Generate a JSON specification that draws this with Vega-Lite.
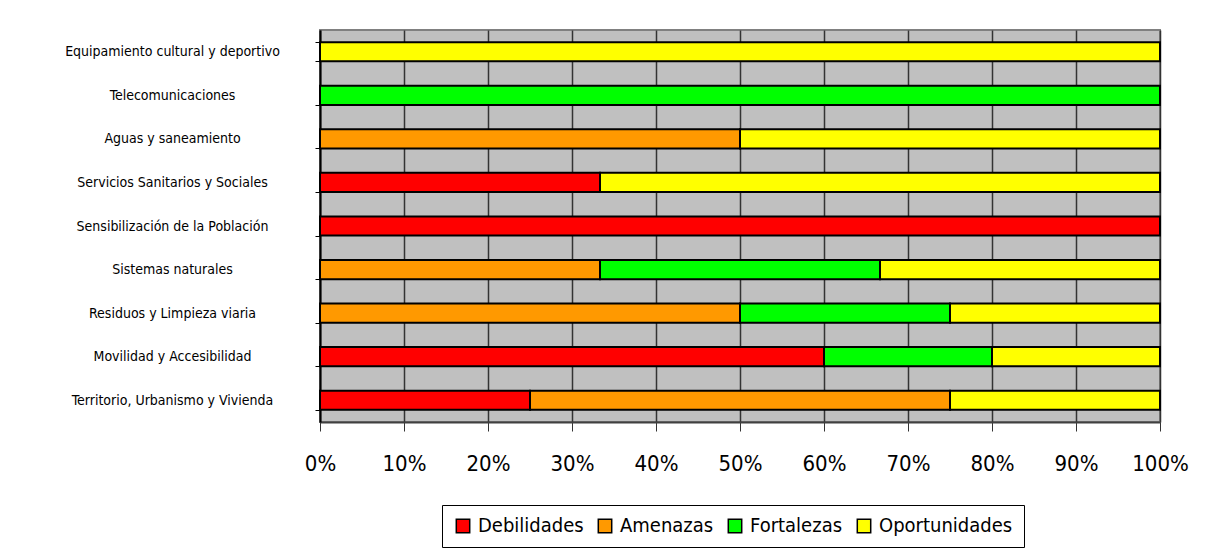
{
  "$schema": "https://vega.github.io/schema/vega-lite/v6.json",
  "width": 840,
  "height": 392,
  "autosize": {"type": "none"},
  "padding": {"left": 320, "top": 30, "right": 58, "bottom": 132},
  "background": "white",
  "config": {
    "view": {"fill": "#C0C0C0", "stroke": "#808080", "strokeWidth": 2},
    "font": "DejaVu Sans Condensed, Roboto Condensed, Liberation Sans, sans-serif"
  },
  "data": {
    "values": [
      {"area": "Equipamiento cultural y deportivo", "tipo": "Oportunidades", "orden": 4, "n": 1},
      {"area": "Telecomunicaciones", "tipo": "Fortalezas", "orden": 3, "n": 1},
      {"area": "Aguas y saneamiento", "tipo": "Amenazas", "orden": 2, "n": 1},
      {"area": "Aguas y saneamiento", "tipo": "Oportunidades", "orden": 4, "n": 1},
      {"area": "Servicios Sanitarios y Sociales", "tipo": "Debilidades", "orden": 1, "n": 1},
      {"area": "Servicios Sanitarios y Sociales", "tipo": "Oportunidades", "orden": 4, "n": 2},
      {"area": "Sensibilización de la Población", "tipo": "Debilidades", "orden": 1, "n": 1},
      {"area": "Sistemas naturales", "tipo": "Amenazas", "orden": 2, "n": 1},
      {"area": "Sistemas naturales", "tipo": "Fortalezas", "orden": 3, "n": 1},
      {"area": "Sistemas naturales", "tipo": "Oportunidades", "orden": 4, "n": 1},
      {"area": "Residuos y Limpieza viaria", "tipo": "Amenazas", "orden": 2, "n": 2},
      {"area": "Residuos y Limpieza viaria", "tipo": "Fortalezas", "orden": 3, "n": 1},
      {"area": "Residuos y Limpieza viaria", "tipo": "Oportunidades", "orden": 4, "n": 1},
      {"area": "Movilidad y Accesibilidad", "tipo": "Debilidades", "orden": 1, "n": 3},
      {"area": "Movilidad y Accesibilidad", "tipo": "Fortalezas", "orden": 3, "n": 1},
      {"area": "Movilidad y Accesibilidad", "tipo": "Oportunidades", "orden": 4, "n": 1},
      {"area": "Territorio, Urbanismo y Vivienda", "tipo": "Debilidades", "orden": 1, "n": 1},
      {"area": "Territorio, Urbanismo y Vivienda", "tipo": "Amenazas", "orden": 2, "n": 2},
      {"area": "Territorio, Urbanismo y Vivienda", "tipo": "Oportunidades", "orden": 4, "n": 1}
    ]
  },
  "mark": {"type": "bar", "stroke": "black", "strokeWidth": 2},
  "encoding": {
    "y": {
      "field": "area",
      "type": "nominal",
      "sort": null,
      "scale": {"paddingInner": 0.56, "paddingOuter": 0.28},
      "axis": {
        "title": null,
        "tickBand": "extent",
        "tickSize": 5,
        "tickColor": "black",
        "domainColor": "black",
        "domainWidth": 2,
        "labelFontSize": 14,
        "labelColor": "black",
        "labelAlign": "center",
        "labelPadding": 143,
        "labelLimit": 0
      }
    },
    "x": {
      "field": "n",
      "type": "quantitative",
      "stack": "normalize",
      "scale": {"domain": [0, 1], "nice": false},
      "axis": {
        "title": null,
        "format": ".0%",
        "values": [0, 0.1, 0.2, 0.3, 0.4, 0.5, 0.6, 0.7, 0.8, 0.9, 1],
        "grid": true,
        "gridColor": "#333333",
        "gridWidth": 1.5,
        "tickColor": "#333333",
        "tickSize": 9,
        "domainColor": "#404040",
        "domainWidth": 2,
        "labelFontSize": 22,
        "labelColor": "black",
        "labelPadding": 22,
        "labelFlush": false,
        "labelOverlap": false
      }
    },
    "color": {
      "field": "tipo",
      "type": "nominal",
      "scale": {
        "domain": ["Debilidades", "Amenazas", "Fortalezas", "Oportunidades"],
        "range": ["#FF0000", "#FF9900", "#00FF00", "#FFFF00"]
      },
      "legend": {
        "title": null,
        "orient": "none",
        "direction": "horizontal",
        "legendX": 122,
        "legendY": 475,
        "strokeColor": "black",
        "padding": 11,
        "symbolType": "square",
        "symbolSize": 180,
        "symbolStrokeColor": "black",
        "symbolStrokeWidth": 1.5,
        "symbolOpacity": 1,
        "labelFontSize": 20,
        "labelColor": "black",
        "columnPadding": 11,
        "labelOffset": 5
      }
    },
    "order": {"field": "orden", "type": "quantitative"}
  }
}
